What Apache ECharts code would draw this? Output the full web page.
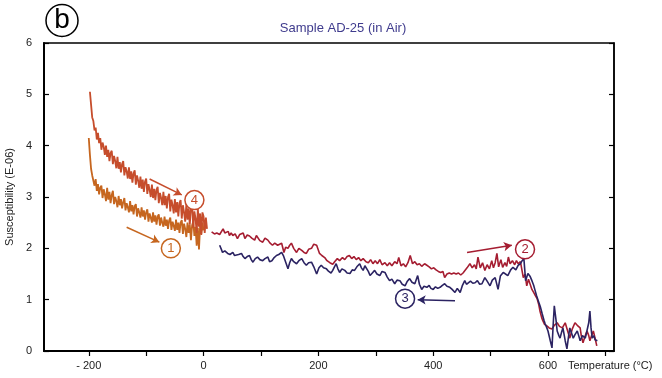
<!DOCTYPE html>
<html>

<head>
    <meta charset="utf-8">
    <script type="text/javascript" src="https://cdn.jsdelivr.net/npm/echarts@6/dist/echarts.min.js"></script>
    <title>Sample AD-25 (in Air)</title>
</head>

<body style="margin:0;background:#fff;">
    <div id="container" style="width:662px;height:378px;"></div>
    <script type="text/javascript">
    // 低温段：每 2 °C 一个读数
    var lowStep = 2;
    var lowHeatStart = -200;  // ① 升温 (-200 → 0)
    var lowHeatVals = [4.15, 3.82, 3.55, 3.42, 3.4, 3.22, 3.35, 3.12, 3.25, 3.05, 3.18, 3.22, 2.98, 3.15, 3.05,
        2.92, 3.18, 2.95, 3.1, 2.88, 3.04, 3.12, 2.86, 3.0, 2.92, 2.8, 3.02, 2.84, 2.96, 2.78, 2.9, 2.98,
        2.74, 2.88, 2.8, 2.7, 2.92, 2.72, 2.84, 2.66, 2.82, 2.86, 2.62, 2.78, 2.7, 2.6, 2.8, 2.62, 2.74,
        2.56, 2.7, 2.76, 2.52, 2.68, 2.6, 2.5, 2.7, 2.52, 2.64, 2.46, 2.62, 2.66, 2.44, 2.6, 2.5, 2.42,
        2.62, 2.44, 2.56, 2.38, 2.54, 2.6, 2.36, 2.52, 2.44, 2.34, 2.56, 2.36, 2.5, 2.3, 2.5, 2.55, 2.28,
        2.48, 2.38, 2.22, 2.5, 2.3, 2.46, 2.16, 2.45, 2.52, 2.24, 2.42, 2.05, 2.4, 1.98, 2.45, 2.28, 2.5,
        2.35];
    var lowCoolStart = -198;  // ④ 降温 (0 → -200)
    var lowCoolVals = [5.05, 4.8, 4.55, 4.48, 4.3, 4.35, 4.12, 4.25, 4.05, 4.15, 3.92, 4.06, 3.98, 3.82, 4.0,
        3.78, 3.92, 3.7, 3.86, 3.9, 3.64, 3.8, 3.7, 3.56, 3.78, 3.55, 3.68, 3.48, 3.64, 3.7, 3.42, 3.58,
        3.5, 3.36, 3.58, 3.35, 3.5, 3.28, 3.46, 3.52, 3.24, 3.42, 3.32, 3.18, 3.4, 3.16, 3.34, 3.1, 3.3,
        3.36, 3.06, 3.25, 3.14, 3.0, 3.24, 2.98, 3.16, 2.94, 3.14, 3.2, 2.88, 3.08, 2.98, 2.84, 3.1, 2.84,
        3.02, 2.78, 3.0, 3.06, 2.72, 2.95, 2.84, 2.68, 2.96, 2.7, 2.9, 2.62, 2.88, 2.94, 2.58, 2.84, 2.7,
        2.52, 2.86, 2.56, 2.78, 2.46, 2.8, 2.84, 2.4, 2.72, 2.58, 2.3, 2.78, 2.42, 2.68, 2.26, 2.7, 2.62,
        2.3, 2.6, 2.38];

    // 高温段 [温度, 磁化率]
    var heating = [[14,2.32],[19,2.28],[23,2.3],[28,2.27],[31,2.3],[34,2.38],[37,2.3],[40,2.29],[43,2.33],
        [45,2.25],[48,2.3],[51,2.25],[55,2.28],[59,2.19],[63,2.27],[66,2.25],[69,2.3],[72,2.19],[76,2.26],
        [80,2.24],[84,2.2],[89,2.16],[92,2.25],[94,2.22],[98,2.15],[103,2.12],[107,2.2],[112,2.16],[116,2.1],
        [120,2.06],[124,2.1],[129,2.06],[132,2.08],[136,2.1],[140,1.92],[143,2.02],[147,2.0],[150,2.06],
        [153,2.1],[157,2.0],[162,1.92],[166,2.0],[171,1.96],[175,1.92],[179,1.9],[183,1.98],[188,2.0],
        [192,2.08],[197,2.06],[202,1.9],[206,1.86],[211,1.82],[215,1.76],[220,1.72],[225,1.69],[229,1.75],
        [233,1.8],[237,1.76],[242,1.82],[246,1.78],[250,1.84],[254,1.86],[258,1.8],[262,1.84],[266,1.78],
        [270,1.82],[274,1.76],[278,1.8],[283,1.74],[287,1.72],[291,1.78],[295,1.7],[299,1.76],[303,1.7],
        [307,1.78],[311,1.68],[316,1.72],[320,1.66],[324,1.72],[328,1.66],[333,1.74],[337,1.7],[340,1.82],
        [344,1.66],[348,1.7],[352,1.64],[356,1.72],[360,1.86],[364,1.7],[368,1.74],[372,1.68],[376,1.7],
        [380,1.65],[385,1.7],[389,1.67],[393,1.64],[397,1.6],[401,1.62],[405,1.58],[409,1.55],[413,1.53],
        [417,1.55],[420,1.43],[424,1.5],[428,1.52],[432,1.5],[436,1.52],[440,1.5],[444,1.52],[448,1.48],
        [452,1.52],[455,1.5],[459,1.62],[464,1.7],[468,1.62],[472,1.68],[475,1.6],[478,1.83],[482,1.62],
        [486,1.72],[490,1.57],[494,1.68],[498,1.6],[502,1.76],[505,1.62],[508,1.72],[511,1.9],[514,1.64],
        [518,1.78],[521,1.63],[525,1.72],[528,1.65],[531,1.83],[534,1.7],[538,1.76],[542,1.68],[545,1.76],
        [548,1.7],[552,1.74],[555,1.72],[557,1.43],[560,1.5],[563,1.27],[566,1.4],[569,1.37],[572,1.2],
        [575,1.14],[578,1.08],[581,1.02],[584,0.9],[586,0.78],[589,0.65],[591,0.59],[594,0.52],[598,0.49],
        [602,0.45],[607,0.43],[611,0.5],[616,0.55],[620,0.48],[625,0.45],[630,0.55],[634,0.4],[638,0.25],
        [642,0.42],[647,0.55],[651,0.5],[656,0.45],[658,0.3],[661,0.16],[665,0.3],[668,0.39],[671,0.3],
        [673,0.2],[676,0.3],[679,0.39],[682,0.25],[685,0.1]];

    var cooling = [[28,2.06],[31,1.98],[33,1.92],[37,1.95],[42,1.9],[46,1.88],[51,1.92],[54,1.86],[57,1.83],
        [61,1.88],[66,1.9],[69,1.84],[72,1.8],[76,1.84],[80,1.86],[83,1.78],[86,1.73],[90,1.8],[94,1.83],
        [98,1.78],[103,1.76],[107,1.8],[112,1.83],[115,1.74],[119,1.76],[123,1.82],[127,1.86],[131,1.88],
        [136,1.92],[139,1.86],[141,1.83],[144,1.7],[147,1.6],[150,1.72],[153,1.8],[157,1.74],[162,1.7],
        [166,1.76],[171,1.8],[175,1.72],[179,1.67],[183,1.72],[188,1.73],[192,1.64],[197,1.5],[201,1.62],
        [205,1.67],[209,1.62],[214,1.6],[218,1.55],[222,1.52],[225,1.57],[228,1.64],[231,1.7],[234,1.6],
        [237,1.53],[241,1.6],[246,1.57],[250,1.52],[255,1.51],[259,1.58],[263,1.57],[267,1.64],[272,1.7],
        [275,1.62],[278,1.57],[281,1.66],[284,1.63],[287,1.55],[290,1.47],[294,1.52],[298,1.57],[302,1.5],
        [307,1.47],[311,1.55],[316,1.53],[320,1.44],[324,1.37],[328,1.4],[333,1.31],[337,1.38],[342,1.37],
        [346,1.3],[351,1.27],[355,1.36],[359,1.41],[363,1.34],[368,1.31],[373,1.47],[376,1.3],[380,1.2],
        [384,1.26],[389,1.24],[393,1.28],[396,1.22],[400,1.2],[404,1.25],[408,1.22],[412,1.24],[416,1.28],
        [420,1.31],[424,1.26],[429,1.24],[433,1.2],[438,1.14],[442,1.22],[447,1.14],[451,1.28],[455,1.37],
        [458,1.3],[461,1.31],[465,1.36],[469,1.32],[473,1.33],[477,1.37],[481,1.3],[485,1.31],[490,1.43],
        [494,1.36],[499,1.27],[503,1.38],[508,1.43],[513,1.2],[517,1.46],[522,1.53],[526,1.5],[530,1.47],
        [535,1.58],[539,1.63],[544,1.58],[548,1.67],[552,1.7],[555,1.76],[558,1.8],[561,1.37],[565,1.51],
        [569,1.45],[572,1.37],[575,1.28],[577,1.2],[580,1.08],[583,0.98],[587,0.85],[590,0.72],[593,0.6],
        [595,0.53],[598,0.45],[600,0.39],[604,0.2],[607,0.06],[609,0.5],[611,0.88],[614,0.6],[616,0.39],
        [619,0.3],[621,0.25],[624,0.38],[626,0.45],[630,0.2],[633,0.04],[636,0.3],[638,0.45],[641,0.35],
        [644,0.25],[647,0.32],[651,0.39],[654,0.28],[656,0.2],[660,0.3],[665,0.25],[668,0.4],[671,0.55],
        [673,0.78],[675,0.45],[677,0.25],[680,0.3],[682,0.22],[686,0.2]];

    var xLabelValues = [-200, 0, 200, 400, 600];
    var xTickValues = [-200, -100, 0, 100, 200, 300, 400, 500, 600, 700];

    var cLow = '#c6661f', cLowCool = '#c64d2c', cHeat = '#a51d31', cCool = '#2b2362';
    var font = 'Liberation Sans, Arial, Helvetica, sans-serif';

    function toPairs(start, vals) {
        return vals.map(function (v, i) { return [start + i * lowStep, v]; });
    }

    // 圈号 + 箭头（数据坐标）
    function marks(num, center, from, to, color, curve) {
        return {
            markPoint: {
                symbol: 'circle',
                symbolSize: 19,
                silent: true,
                itemStyle: { color: '#fff', borderColor: color, borderWidth: 1.5 },
                label: { show: true, formatter: num, color: color, fontSize: 13, fontFamily: font },
                data: [{ coord: center }]
            },
            markLine: {
                silent: true,
                symbol: ['none', 'arrow'],
                symbolSize: [7, 8],
                label: { show: false },
                lineStyle: { type: 'solid', color: color, width: 1.5, curveness: curve },
                data: [[{ coord: from }, { coord: to }]]
            }
        };
    }

    var myChart = echarts.init(document.getElementById('container'));

    var series = [
        Object.assign({
            type: 'line', data: toPairs(lowHeatStart, lowHeatVals), showSymbol: false,
            lineStyle: { color: cLow, width: 1.8 }
        }, marks('1', [-57, 2.0], [-134, 2.41], [-77, 2.12], cLow, -0.15)),
        Object.assign({
            type: 'line', data: toPairs(lowCoolStart, lowCoolVals), showSymbol: false,
            lineStyle: { color: cLowCool, width: 1.8 }
        }, marks('4', [-16, 2.94], [-94, 3.35], [-38, 3.04], cLowCool, -0.15)),
        Object.assign({
            type: 'line', data: heating, showSymbol: false,
            lineStyle: { color: cHeat, width: 1.6 }
        }, marks('2', [560, 1.98], [459, 1.92], [537, 2.06], cHeat, 0.15)),
        Object.assign({
            type: 'line', data: cooling, showSymbol: false,
            lineStyle: { color: cCool, width: 1.6 }
        }, marks('3', [351, 1.02], [438, 0.98], [373, 1.0], cCool, 0.05))
    ];

    var option = {
        animation: false,
        title: {
            text: 'Sample AD-25 (in Air)',
            left: 338, top: 17, textAlign: 'center',
            textStyle: { color: '#3f3b8d', fontSize: 13, fontWeight: 'normal', fontFamily: font }
        },
        grid: {
            left: 44, right: 48, top: 43, bottom: 27,
            outerBoundsMode: 'none', containLabel: false,
            show: true, borderColor: '#000', borderWidth: 1.5
        },
        xAxis: {
            type: 'value', min: -278, max: 715,
            axisLine: { show: true, onZero: false, lineStyle: { color: '#000', width: 2 } },
            axisTick: { show: true, inside: false, length: 5, customValues: xTickValues, lineStyle: { color: '#000', width: 1.2 } },
            axisLabel: {
                customValues: xLabelValues, margin: 9, color: '#222', fontSize: 11, fontFamily: font,
                formatter: function (v) { return v < 0 ? '- ' + Math.abs(v) : String(v); }
            },
            splitLine: { show: false }
        },
        yAxis: [{
            type: 'value', min: 0, max: 6, interval: 1, position: 'left',
            name: 'Susceptibility (E-06)', nameLocation: 'middle', nameGap: 29,
            nameTextStyle: { color: '#222', fontSize: 11, fontFamily: font },
            axisLine: { show: true, onZero: false, lineStyle: { color: '#000', width: 2 } },
            axisTick: { show: true, inside: true, length: 5, lineStyle: { color: '#000', width: 1.2 } },
            axisLabel: { margin: 12, color: '#222', fontSize: 11, fontFamily: font },
            splitLine: { show: false }
        }, {
            type: 'value', min: 0, max: 6, interval: 1, position: 'right',
            axisLine: { show: true, onZero: false, lineStyle: { color: '#000', width: 1.5 } },
            axisTick: { show: true, inside: true, length: 5, lineStyle: { color: '#000', width: 1.2 } },
            axisLabel: { show: false },
            splitLine: { show: false }
        }],
        graphic: [
            {
                type: 'circle', shape: { cx: 62, cy: 20.5, r: 16 },
                style: { fill: 'none', stroke: '#000', lineWidth: 1.5 }
            },
            {
                type: 'text', x: 62, y: 20,
                style: { text: 'b', fontSize: 28, fontFamily: font, fill: '#000', align: 'center', verticalAlign: 'middle' }
            },
            {
                type: 'text', x: 568, y: 366,
                style: { text: 'Temperature (°C)', fontSize: 11, fontFamily: font, fill: '#222', verticalAlign: 'middle' }
            }
        ],
        series: series
    };

    myChart.setOption(option);
    </script>
</body>

</html>
